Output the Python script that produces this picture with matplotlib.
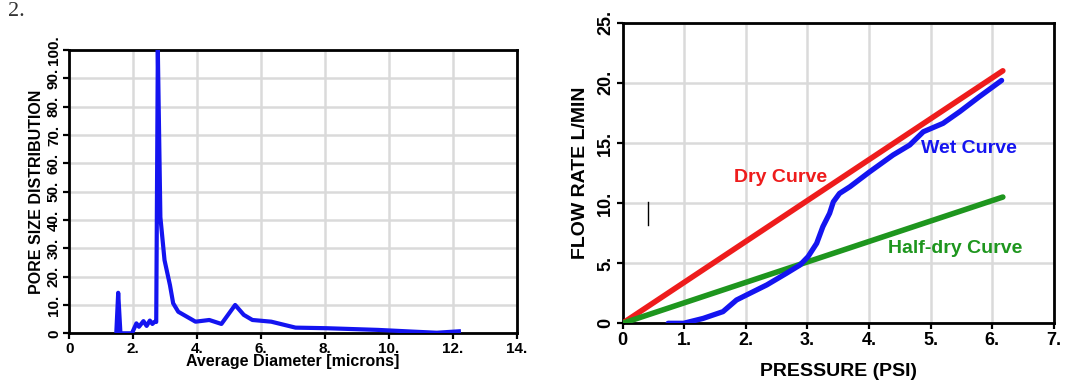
import matplotlib
matplotlib.use("Agg")
import matplotlib.pyplot as plt

plt.rcParams['font.family'] = ['Liberation Sans', 'DejaVu Sans']

# ---- Left chart: pore size distribution ----
pore_diam = [1.47, 1.53, 1.60, 1.96, 2.10, 2.18, 2.32, 2.42, 2.52, 2.60, 2.66, 2.72, 2.77,
             2.85, 2.98, 3.15, 3.25, 3.41, 3.95, 4.38, 4.76, 5.19, 5.46, 5.73, 6.32,
             7.08, 8.04, 9.66, 10.74, 11.50, 12.19]
pore_dist = [0.0, 14.3, 0.0, 0.0, 3.5, 2.3, 4.3, 2.6, 4.5, 3.3, 4.0, 4.0, 100.0,
             41.0, 25.8, 17.0, 10.6, 7.6, 4.1, 4.7, 3.3, 10.0, 6.5, 4.7, 4.1,
             2.0, 1.8, 1.2, 0.6, 0.2, 0.7]
left_xticks = [0, 2, 4, 6, 8, 10, 12, 14]
left_xticklabels = ["0", "2.", "4.", "6.", "8.", "10.", "12.", "14."]
left_yticks = [0, 10, 20, 30, 40, 50, 60, 70, 80, 90, 100]
left_yticklabels = ["0", "10.", "20.", "30.", "40.", "50.", "60.", "70.", "80.", "90.", "100."]

# ---- Right chart: flow rate vs pressure ----
dry_pressure = [0.0, 6.17]
dry_flow = [0.0, 21.0]
half_pressure = [0.0, 6.17]
half_flow = [0.0, 10.5]
wet_pressure = [0.74, 0.99, 1.31, 1.63, 1.85, 2.01, 2.34, 2.66, 2.88, 3.01, 3.15, 3.25,
                3.36, 3.42, 3.52, 3.69, 4.01, 4.39, 4.66, 4.88, 5.20, 5.47, 5.79, 6.15]
wet_flow = [0.0, 0.0, 0.41, 0.97, 1.94, 2.35, 3.19, 4.16, 4.85, 5.54, 6.65, 8.03,
            9.15, 10.1, 10.8, 11.36, 12.6, 14.0, 14.83, 15.93, 16.63, 17.6, 18.85, 20.2]
right_xticks = [0, 1, 2, 3, 4, 5, 6, 7]
right_xticklabels = ["0", "1.", "2.", "3.", "4.", "5.", "6.", "7."]
right_yticks = [0, 5, 10, 15, 20, 25]
right_yticklabels = ["0", "5.", "10.", "15.", "20.", "25."]

W, H = 1066, 383
fig = plt.figure(figsize=(W / 100, H / 100), dpi=100)

def axes_px(x0, x1, y0, y1):
    return fig.add_axes([x0 / W, 1 - y1 / H, (x1 - x0) / W, (y1 - y0) / H])

grid_col = "#dadada"

def style(ax, xt, xtl, yt, ytl, fs):
    ax.set_xticks(xt)
    ax.set_xticklabels(xtl, fontsize=fs, fontweight='bold')
    ax.set_yticks(yt)
    ax.set_yticklabels(ytl, fontsize=fs, fontweight='bold', rotation=90, va='center')
    ax.grid(True, color=grid_col, lw=1.8, zorder=0)
    ax.set_axisbelow(True)
    for s in ax.spines.values():
        s.set_linewidth(2.0)
        s.set_color('black')
    ax.tick_params(direction='out', length=4, width=1.6, pad=2, colors='black')

# Left axes
axL = axes_px(69.3, 516.7, 50, 333.3)
axL.plot(pore_diam, pore_dist, color='#1414f0', lw=3.0, solid_joinstyle='round', zorder=3)
axL.set_xlim(0, 14)
axL.set_ylim(0, 100)
style(axL, left_xticks, left_xticklabels, left_yticks, left_yticklabels, 11)
axL.set_xlabel("Average Diameter [microns]", fontsize=11.5, fontweight='bold', labelpad=-1)
axL.set_ylabel("PORE SIZE DISTRIBUTION", fontsize=11.5, fontweight='bold', labelpad=2)

# Right axes
axR = axes_px(622.5, 1054, 22.7, 323.3)
axR.plot(dry_pressure, dry_flow, color='#ee1c1c', lw=4.0, solid_capstyle='round', zorder=3)
axR.plot(half_pressure, half_flow, color='#1e961e', lw=4.0, solid_capstyle='round', zorder=3)
axR.plot(wet_pressure, wet_flow, color='#1414f0', lw=3.8, solid_capstyle='round',
         solid_joinstyle='round', zorder=4)
axR.plot([0.41, 0.41], [8.2, 10.1], color='black', lw=1.0, zorder=3)
axR.set_xlim(0, 7)
axR.set_ylim(0, 25)
style(axR, right_xticks, right_xticklabels, right_yticks, right_yticklabels, 13)
axR.set_xlabel("PRESSURE (PSI)", fontsize=14, fontweight='bold', labelpad=10)
axR.set_ylabel("FLOW RATE L/MIN", fontsize=14, fontweight='bold', labelpad=6)

axR.text(2.57, 12.1, "Dry Curve", color='#ee1c1c', fontsize=14, fontweight='bold',
         ha='center', va='center', zorder=5)
axR.text(5.62, 14.56, "Wet Curve", color='#1414f0', fontsize=14, fontweight='bold',
         ha='center', va='center', zorder=5)
axR.text(5.4, 6.24, "Half-dry Curve", color='#1e961e', fontsize=14, fontweight='bold',
         ha='center', va='center', zorder=5)

fig.text(8 / W, 1 - 12 / H, "2.", family='Liberation Serif', fontsize=16,
         color='#333333', ha='left', va='center')

fig.savefig("out.png", dpi=100)
